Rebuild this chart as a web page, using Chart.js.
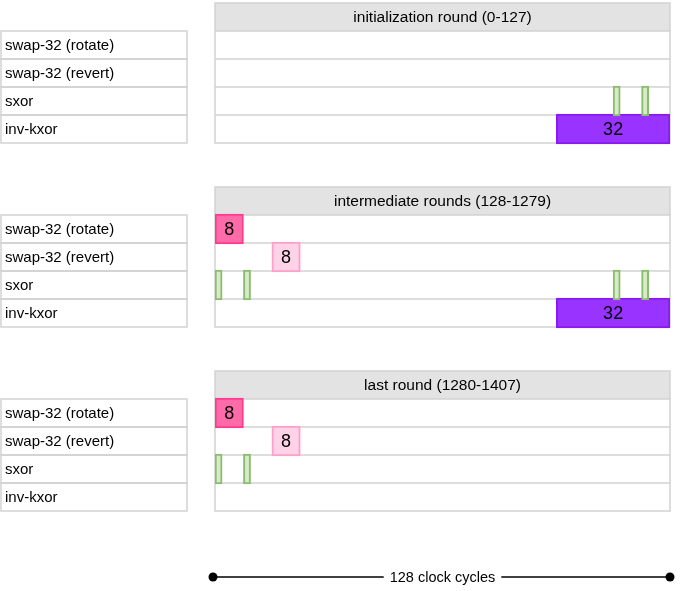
<!DOCTYPE html><html><head><script src="https://cdn.jsdelivr.net/npm/chart.js"></script>
<style>html,body{margin:0;padding:0;background:#fff}#w{width:685px;height:591px}</style></head><body><div id="w"><canvas id="c"></canvas></div>
<script>
const panelTitles=["initialization round (0-127)","intermediate rounds (128-1279)","last round (1280-1407)"];
const units=["swap-32 (rotate)","swap-32 (revert)","sxor","inv-kxor"];
// per panel: [start,end] intervals
const rotateOps=[[],[[0,8]],[[0,8]]];
const revertOps=[[],[[16,24]],[[16,24]]];
const sxorOps=[[[112,114],[120,122]],[[0,2],[8,10],[112,114],[120,122]],[[0,2],[8,10]]];
const kxorOps=[[[96,128]],[[96,128]],[]];
const cycles=128, axisLabel="128 clock cycles";

const PANEL=184/28; // panel pitch in row units
function rowCenter(p,r){return p*PANEL+1+r+0.5;}
function mk(ops,r,bg,bd,label,th){
  const d=[];ops.forEach((list,p)=>list.forEach(iv=>d.push({x:iv,y:rowCenter(p,r)})));
  return {data:d,backgroundColor:bg,borderColor:bd,borderWidth:2,borderSkipped:false,barThickness:th,grouped:false,lbl:label};
}
const ds=[mk(rotateOps,0,'#ff6aa9','#ff3b8e',true,30),mk(revertOps,1,'#ffd3e7','#ff9fcb',true,30),
  mk(sxorOps,2,'#d6ecc8','#8bbb6c',false,30),mk(kxorOps,3,'#9933ff','#8a1af0',true,30)];
const F='"Liberation Sans",Arial,sans-serif';
const deco={id:'deco',beforeDatasetsDraw(ch){
  const c=ch.ctx,x=ch.scales.x,y=ch.scales.y;const L=x.getPixelForValue(0),R=x.getPixelForValue(cycles);
  c.save();
  for(let p=0;p<3;p++){
    const t=y.getPixelForValue(p*PANEL),h=y.getPixelForValue(p*PANEL+1);
    c.fillStyle='#e3e3e3';c.fillRect(L,t,R-L,h-t);
    c.strokeStyle='#d2d2d2';c.lineWidth=1.5;
    c.strokeRect(L,t,R-L,y.getPixelForValue(p*PANEL+5)-t);
    for(let r=0;r<4;r++){const a=y.getPixelForValue(p*PANEL+1+r),b=y.getPixelForValue(p*PANEL+2+r);
      c.beginPath();c.moveTo(L,a);c.lineTo(R,a);c.stroke();
      c.strokeRect(1,a,186,b-a);
      c.fillStyle='#000';c.font='15px '+F;c.textAlign='left';c.textBaseline='middle';
      c.fillText(units[r],5,(a+b)/2+1);}
    c.fillStyle='#000';c.font='15.5px '+F;c.textAlign='center';c.textBaseline='middle';
    c.fillText(panelTitles[p],(L+R)/2,(t+h)/2+1);
  }
  c.restore();
},afterDatasetsDraw(ch){
  const c=ch.ctx,x=ch.scales.x;c.save();
  ch.data.datasets.forEach((d,i)=>{if(!d.lbl)return;ch.getDatasetMeta(i).data.forEach((el,j)=>{
    const v=d.data[j].x;c.fillStyle='#000';c.font='18px '+F;c.textAlign='center';c.textBaseline='middle';
    c.fillText(String(v[1]-v[0]),(x.getPixelForValue(v[0])+x.getPixelForValue(v[1]))/2,el.y+1);});});
  const L=x.getPixelForValue(0),R=x.getPixelForValue(cycles),yy=577;
  c.strokeStyle='#000';c.lineWidth=1.5;c.beginPath();c.moveTo(L-2,yy);c.lineTo(R,yy);c.stroke();
  c.fillStyle='#000';[L-2,R].forEach(px=>{c.beginPath();c.arc(px,yy,4.5,0,7);c.fill();});
  c.font='14.5px '+F;c.textAlign='center';c.textBaseline='middle';
  const tw=c.measureText(axisLabel).width;c.fillStyle='#fff';c.fillRect((L+R)/2-tw/2-6,yy-8,tw+12,16);
  c.fillStyle='#000';c.fillText(axisLabel,(L+R)/2,yy+1);
  c.restore();}};
new Chart(document.getElementById('c'),{type:'bar',data:{datasets:ds},plugins:[deco],
 options:{indexAxis:'y',responsive:true,maintainAspectRatio:false,animation:false,
  layout:{padding:{left:215,right:15,top:3,bottom:0}},
  plugins:{legend:{display:false},tooltip:{enabled:false}},
  scales:{x:{type:'linear',min:0,max:cycles,display:false,offset:false},y:{type:'linear',min:0,max:21,reverse:true,display:false,offset:false}}}});
</script></body></html>
